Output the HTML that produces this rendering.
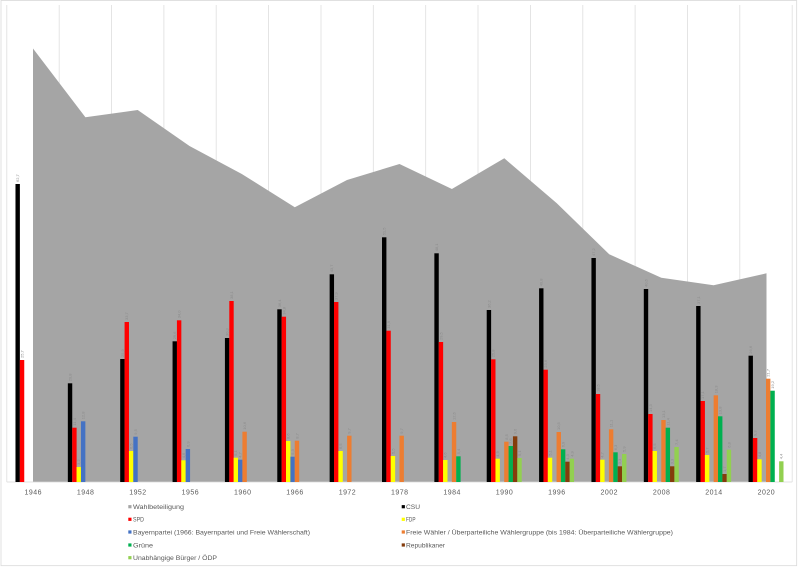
<!DOCTYPE html>
<html><head><meta charset="utf-8"><style>
html,body{margin:0;padding:0;background:#fff;width:800px;height:567px;overflow:hidden}
svg{display:block}
text{font-family:"Liberation Sans",sans-serif}
.dl{font-size:4px;fill:#8c8c8c}
.xl{font-size:7px;fill:#595959}
.lg{font-size:6.5px;fill:#595959}
</style></head><body>
<svg width="800" height="567" viewBox="0 0 800 567" xmlns="http://www.w3.org/2000/svg">
<rect x="0" y="0" width="800" height="567" fill="#fff"/>
<rect x="1" y="0.5" width="795.7" height="565.2" fill="none" stroke="#d9d9d9" stroke-width="0.8"/>
<g stroke="#dedede" stroke-width="0.8">
<line x1="6.8" y1="5" x2="6.8" y2="482"/><line x1="59.2" y1="5" x2="59.2" y2="482"/><line x1="111.5" y1="5" x2="111.5" y2="482"/><line x1="163.9" y1="5" x2="163.9" y2="482"/><line x1="216.2" y1="5" x2="216.2" y2="482"/><line x1="268.6" y1="5" x2="268.6" y2="482"/><line x1="321" y1="5" x2="321" y2="482"/><line x1="373.3" y1="5" x2="373.3" y2="482"/><line x1="425.7" y1="5" x2="425.7" y2="482"/><line x1="478" y1="5" x2="478" y2="482"/><line x1="530.4" y1="5" x2="530.4" y2="482"/><line x1="582.8" y1="5" x2="582.8" y2="482"/><line x1="635.1" y1="5" x2="635.1" y2="482"/><line x1="687.5" y1="5" x2="687.5" y2="482"/><line x1="739.8" y1="5" x2="739.8" y2="482"/><line x1="792.2" y1="5" x2="792.2" y2="482"/>
</g>
<polygon fill="#a5a5a5" points="33,48.5 85.4,117.3 137.7,110 189.5,146 241.8,174 294.8,207.3 347,180 399.5,164 451.9,189 504.3,158.3 556.8,203.3 609.2,254.3 661.3,277.7 713.6,285.3 766.5,273.3 766.5,482 33,482"/>
<line x1="6.8" y1="482" x2="792.2" y2="482" stroke="#d9d9d9" stroke-width="0.8"/>

<!-- 1946 -->
<g transform="translate(15.48,0)">
<rect x="0" y="184" width="4.4" height="298" fill="#000"/>
<rect x="4.37" y="360" width="4.4" height="122" fill="#f00"/>
<text class="dl" transform="translate(3.6,182) rotate(-90)">62,7</text>
<text class="dl" transform="translate(8,358) rotate(-90)">25,7</text>
</g>
<!-- 1948 -->
<g transform="translate(67.84,0)">
<rect x="0" y="383.3" width="4.4" height="98.7" fill="#000"/>
<rect x="4.37" y="427.7" width="4.4" height="54.3" fill="#f00"/>
<rect x="8.74" y="467" width="4.4" height="15" fill="#ff0"/>
<rect x="13.11" y="421.3" width="4.4" height="60.7" fill="#4472c4"/>
<text class="dl" transform="translate(3.6,381.3) rotate(-90)">20,8</text>
<text class="dl" transform="translate(8,425.7) rotate(-90)">11,4</text>
<text class="dl" transform="translate(12.3,465) rotate(-90)">3,2</text>
<text class="dl" transform="translate(16.7,419.3) rotate(-90)">12,8</text>
</g>
<!-- 1952 -->
<g transform="translate(120.2,0)">
<rect x="0" y="359" width="4.4" height="123" fill="#000"/>
<rect x="4.37" y="322" width="4.4" height="160" fill="#f00"/>
<rect x="8.74" y="451" width="4.4" height="31" fill="#ff0"/>
<rect x="13.11" y="436.7" width="4.4" height="45.3" fill="#4472c4"/>
<text class="dl" transform="translate(3.6,357) rotate(-90)">25,9</text>
<text class="dl" transform="translate(8,320) rotate(-90)">33,7</text>
<text class="dl" transform="translate(12.3,449) rotate(-90)">6,5</text>
<text class="dl" transform="translate(16.7,434.7) rotate(-90)">9,5</text>
</g>
<!-- 1956 -->
<g transform="translate(172.56,0)">
<rect x="0" y="341.3" width="4.4" height="140.7" fill="#000"/>
<rect x="4.37" y="320.3" width="4.4" height="161.7" fill="#f00"/>
<rect x="8.74" y="460.3" width="4.4" height="21.7" fill="#ff0"/>
<rect x="13.11" y="449" width="4.4" height="33" fill="#4472c4"/>
<text class="dl" transform="translate(3.6,339.3) rotate(-90)">29,6</text>
<text class="dl" transform="translate(8,318.3) rotate(-90)">34,0</text>
<text class="dl" transform="translate(12.3,458.3) rotate(-90)">4,6</text>
<text class="dl" transform="translate(16.7,447) rotate(-90)">6,9</text>
</g>
<!-- 1960 -->
<g transform="translate(224.92,0)">
<rect x="0" y="338" width="4.4" height="144" fill="#000"/>
<rect x="4.37" y="301" width="4.4" height="181" fill="#f00"/>
<rect x="8.74" y="457.7" width="4.4" height="24.3" fill="#ff0"/>
<rect x="13.11" y="459.7" width="4.4" height="22.3" fill="#4472c4"/>
<rect x="17.48" y="431.7" width="4.4" height="50.3" fill="#ed7d31"/>
<text class="dl" transform="translate(3.6,336) rotate(-90)">30,3</text>
<text class="dl" transform="translate(8,299) rotate(-90)">38,1</text>
<text class="dl" transform="translate(12.3,455.7) rotate(-90)">5,1</text>
<text class="dl" transform="translate(16.7,457.7) rotate(-90)">4,7</text>
<text class="dl" transform="translate(21.1,429.7) rotate(-90)">10,6</text>
</g>
<!-- 1966 -->
<g transform="translate(277.28,0)">
<rect x="0" y="309.3" width="4.4" height="172.7" fill="#000"/>
<rect x="4.37" y="316.7" width="4.4" height="165.3" fill="#f00"/>
<rect x="8.74" y="441" width="4.4" height="41" fill="#ff0"/>
<rect x="13.11" y="456.7" width="4.4" height="25.3" fill="#4472c4"/>
<rect x="17.48" y="440.7" width="4.4" height="41.3" fill="#ed7d31"/>
<text class="dl" transform="translate(3.6,307.3) rotate(-90)">36,4</text>
<text class="dl" transform="translate(8,314.7) rotate(-90)">34,8</text>
<text class="dl" transform="translate(12.3,439) rotate(-90)">8,6</text>
<text class="dl" transform="translate(16.7,454.7) rotate(-90)">5,3</text>
<text class="dl" transform="translate(21.1,438.7) rotate(-90)">8,7</text>
</g>
<!-- 1972 -->
<g transform="translate(329.64,0)">
<rect x="0" y="274.3" width="4.4" height="207.7" fill="#000"/>
<rect x="4.37" y="302" width="4.4" height="180" fill="#f00"/>
<rect x="8.74" y="451" width="4.4" height="31" fill="#ff0"/>
<rect x="17.48" y="435.7" width="4.4" height="46.3" fill="#ed7d31"/>
<text class="dl" transform="translate(3.6,272.3) rotate(-90)">43,7</text>
<text class="dl" transform="translate(8,300) rotate(-90)">37,9</text>
<text class="dl" transform="translate(12.3,449) rotate(-90)">6,5</text>
<text class="dl" transform="translate(21.1,433.7) rotate(-90)">9,7</text>
</g>
<!-- 1978 -->
<g transform="translate(382,0)">
<rect x="0" y="237.3" width="4.4" height="244.7" fill="#000"/>
<rect x="4.37" y="330.7" width="4.4" height="151.3" fill="#f00"/>
<rect x="8.74" y="456" width="4.4" height="26" fill="#ff0"/>
<rect x="17.48" y="435.7" width="4.4" height="46.3" fill="#ed7d31"/>
<text class="dl" transform="translate(3.6,235.3) rotate(-90)">51,5</text>
<text class="dl" transform="translate(8,328.7) rotate(-90)">31,9</text>
<text class="dl" transform="translate(12.3,454) rotate(-90)">5,5</text>
<text class="dl" transform="translate(21.1,433.7) rotate(-90)">9,7</text>
</g>
<!-- 1984 -->
<g transform="translate(434.36,0)">
<rect x="0" y="253.3" width="4.4" height="228.7" fill="#000"/>
<rect x="4.37" y="342" width="4.4" height="140" fill="#f00"/>
<rect x="8.74" y="460" width="4.4" height="22" fill="#ff0"/>
<rect x="17.48" y="422" width="4.4" height="60" fill="#ed7d31"/>
<rect x="21.85" y="456.3" width="4.4" height="25.7" fill="#00b050"/>
<text class="dl" transform="translate(3.6,251.3) rotate(-90)">48,1</text>
<text class="dl" transform="translate(8,340) rotate(-90)">29,5</text>
<text class="dl" transform="translate(12.3,458) rotate(-90)">4,6</text>
<text class="dl" transform="translate(21.1,420) rotate(-90)">12,6</text>
<text class="dl" transform="translate(25.5,454.3) rotate(-90)">5,4</text>
</g>
<!-- 1990 -->
<g transform="translate(486.72,0)">
<rect x="0" y="310" width="4.4" height="172" fill="#000"/>
<rect x="4.37" y="359.3" width="4.4" height="122.7" fill="#f00"/>
<rect x="8.74" y="458.7" width="4.4" height="23.3" fill="#ff0"/>
<rect x="17.48" y="441.7" width="4.4" height="40.3" fill="#ed7d31"/>
<rect x="21.85" y="446" width="4.4" height="36" fill="#00b050"/>
<rect x="26.22" y="436.3" width="4.4" height="45.7" fill="#843c0c"/>
<rect x="30.59" y="458" width="4.4" height="24" fill="#92d050"/>
<text class="dl" transform="translate(3.6,308) rotate(-90)">36,2</text>
<text class="dl" transform="translate(8,357.3) rotate(-90)">25,8</text>
<text class="dl" transform="translate(12.3,456.7) rotate(-90)">4,9</text>
<text class="dl" transform="translate(21.1,439.7) rotate(-90)">8,5</text>
<text class="dl" transform="translate(25.5,444) rotate(-90)">7,6</text>
<text class="dl" transform="translate(29.8,434.3) rotate(-90)">9,6</text>
<text class="dl" transform="translate(34.2,456) rotate(-90)">5,1</text>
</g>
<!-- 1996 -->
<g transform="translate(539.08,0)">
<rect x="0" y="288.3" width="4.4" height="193.7" fill="#000"/>
<rect x="4.37" y="369.7" width="4.4" height="112.3" fill="#f00"/>
<rect x="8.74" y="457.7" width="4.4" height="24.3" fill="#ff0"/>
<rect x="17.48" y="432" width="4.4" height="50" fill="#ed7d31"/>
<rect x="21.85" y="449.3" width="4.4" height="32.7" fill="#00b050"/>
<rect x="26.22" y="461.7" width="4.4" height="20.3" fill="#843c0c"/>
<rect x="30.59" y="458.7" width="4.4" height="23.3" fill="#92d050"/>
<text class="dl" transform="translate(3.6,286.3) rotate(-90)">40,8</text>
<text class="dl" transform="translate(8,367.7) rotate(-90)">23,6</text>
<text class="dl" transform="translate(12.3,455.7) rotate(-90)">5,1</text>
<text class="dl" transform="translate(21.1,430) rotate(-90)">10,5</text>
<text class="dl" transform="translate(25.5,447.3) rotate(-90)">6,9</text>
<text class="dl" transform="translate(29.8,459.7) rotate(-90)">4,3</text>
<text class="dl" transform="translate(34.2,456.7) rotate(-90)">4,9</text>
</g>
<!-- 2002 -->
<g transform="translate(591.44,0)">
<rect x="0" y="258" width="4.4" height="224" fill="#000"/>
<rect x="4.37" y="394" width="4.4" height="88" fill="#f00"/>
<rect x="8.74" y="459.7" width="4.4" height="22.3" fill="#ff0"/>
<rect x="17.48" y="429.3" width="4.4" height="52.7" fill="#ed7d31"/>
<rect x="21.85" y="452.3" width="4.4" height="29.7" fill="#00b050"/>
<rect x="26.22" y="466.3" width="4.4" height="15.7" fill="#843c0c"/>
<rect x="30.59" y="454" width="4.4" height="28" fill="#92d050"/>
<text class="dl" transform="translate(3.6,256) rotate(-90)">47,2</text>
<text class="dl" transform="translate(8,392) rotate(-90)">18,5</text>
<text class="dl" transform="translate(12.3,457.7) rotate(-90)">4,7</text>
<text class="dl" transform="translate(21.1,427.3) rotate(-90)">11,1</text>
<text class="dl" transform="translate(25.5,450.3) rotate(-90)">6,3</text>
<text class="dl" transform="translate(29.8,464.3) rotate(-90)">3,3</text>
<text class="dl" transform="translate(34.2,452) rotate(-90)">5,9</text>
</g>
<!-- 2008 -->
<g transform="translate(643.8,0)">
<rect x="0" y="289" width="4.4" height="193" fill="#000"/>
<rect x="4.37" y="414" width="4.4" height="68" fill="#f00"/>
<rect x="8.74" y="451" width="4.4" height="31" fill="#ff0"/>
<rect x="17.48" y="420" width="4.4" height="62" fill="#ed7d31"/>
<rect x="21.85" y="427.7" width="4.4" height="54.3" fill="#00b050"/>
<rect x="26.22" y="466.3" width="4.4" height="15.7" fill="#843c0c"/>
<rect x="30.59" y="447" width="4.4" height="35" fill="#92d050"/>
<text class="dl" transform="translate(3.6,287) rotate(-90)">40,6</text>
<text class="dl" transform="translate(8,412) rotate(-90)">14,3</text>
<text class="dl" transform="translate(12.3,449) rotate(-90)">6,5</text>
<text class="dl" transform="translate(21.1,418) rotate(-90)">13,1</text>
<text class="dl" transform="translate(25.5,425.7) rotate(-90)">11,4</text>
<text class="dl" transform="translate(29.8,464.3) rotate(-90)">3,3</text>
<text class="dl" transform="translate(34.2,445) rotate(-90)">7,4</text>
</g>
<!-- 2014 -->
<g transform="translate(696.16,0)">
<rect x="0" y="306" width="4.4" height="176" fill="#000"/>
<rect x="4.37" y="401" width="4.4" height="81" fill="#f00"/>
<rect x="8.74" y="455" width="4.4" height="27" fill="#ff0"/>
<rect x="17.48" y="395.3" width="4.4" height="86.7" fill="#ed7d31"/>
<rect x="21.85" y="416.3" width="4.4" height="65.7" fill="#00b050"/>
<rect x="26.22" y="474" width="4.4" height="8" fill="#843c0c"/>
<rect x="30.59" y="449.7" width="4.4" height="32.3" fill="#92d050"/>
<text class="dl" transform="translate(3.6,304) rotate(-90)">37,1</text>
<text class="dl" transform="translate(8,399) rotate(-90)">17,1</text>
<text class="dl" transform="translate(12.3,453) rotate(-90)">5,7</text>
<text class="dl" transform="translate(21.1,393.3) rotate(-90)">18,3</text>
<text class="dl" transform="translate(25.5,414.3) rotate(-90)">13,8</text>
<text class="dl" transform="translate(29.8,472) rotate(-90)">1,7</text>
<text class="dl" transform="translate(34.2,447.7) rotate(-90)">6,8</text>
</g>
<!-- 2020 -->
<g transform="translate(748.52,0)">
<rect x="0" y="355.7" width="4.4" height="126.3" fill="#000"/>
<rect x="4.37" y="438" width="4.4" height="44" fill="#f00"/>
<rect x="8.74" y="459.3" width="4.4" height="22.7" fill="#ff0"/>
<rect x="17.48" y="378.7" width="4.4" height="103.3" fill="#ed7d31"/>
<rect x="21.85" y="390.7" width="4.4" height="91.3" fill="#00b050"/>
<rect x="30.59" y="461.3" width="4.4" height="20.7" fill="#92d050"/>
<text class="dl" transform="translate(3.6,353.7) rotate(-90)">26,6</text>
<text class="dl" transform="translate(8,436) rotate(-90)">9,3</text>
<text class="dl" transform="translate(12.3,457.3) rotate(-90)">4,8</text>
<text class="dl" transform="translate(21.1,376.7) rotate(-90)">21,7</text>
<text class="dl" transform="translate(25.5,388.7) rotate(-90)">19,2</text>
<text class="dl" transform="translate(34.2,459.3) rotate(-90)">4,4</text>
</g>

<!-- x axis labels -->
<g class="xl" text-anchor="middle">
<text x="33" y="494.5" textLength="17" lengthAdjust="spacing">1946</text>
<text x="85.4" y="494.5" textLength="17" lengthAdjust="spacing">1948</text>
<text x="137.7" y="494.5" textLength="17" lengthAdjust="spacing">1952</text>
<text x="190.1" y="494.5" textLength="17" lengthAdjust="spacing">1956</text>
<text x="242.5" y="494.5" textLength="17" lengthAdjust="spacing">1960</text>
<text x="294.8" y="494.5" textLength="17" lengthAdjust="spacing">1966</text>
<text x="347.2" y="494.5" textLength="17" lengthAdjust="spacing">1972</text>
<text x="399.5" y="494.5" textLength="17" lengthAdjust="spacing">1978</text>
<text x="451.9" y="494.5" textLength="17" lengthAdjust="spacing">1984</text>
<text x="504.3" y="494.5" textLength="17" lengthAdjust="spacing">1990</text>
<text x="556.6" y="494.5" textLength="17" lengthAdjust="spacing">1996</text>
<text x="609" y="494.5" textLength="17" lengthAdjust="spacing">2002</text>
<text x="661.4" y="494.5" textLength="17" lengthAdjust="spacing">2008</text>
<text x="713.7" y="494.5" textLength="17" lengthAdjust="spacing">2014</text>
<text x="766.1" y="494.5" textLength="17" lengthAdjust="spacing">2020</text>
</g>

<!-- legend -->
<rect x="128.3" y="505.1" width="3.2" height="3.2" fill="#a5a5a5"/>
<text class="lg" x="133" y="509" textLength="51" lengthAdjust="spacingAndGlyphs">Wahlbeteiligung</text>
<rect x="128.3" y="517.7" width="3.2" height="3.2" fill="#f00"/>
<text class="lg" x="133" y="521.6" textLength="11" lengthAdjust="spacingAndGlyphs">SPD</text>
<rect x="128.3" y="530.4" width="3.2" height="3.2" fill="#4472c4"/>
<text class="lg" x="133" y="534.3" textLength="177" lengthAdjust="spacingAndGlyphs">Bayernpartei (1966: Bayernpartei und Freie Wählerschaft)</text>
<rect x="128.3" y="543.4" width="3.2" height="3.2" fill="#00b050"/>
<text class="lg" x="133" y="547.3" textLength="20" lengthAdjust="spacingAndGlyphs">Grüne</text>
<rect x="128.3" y="556.1" width="3.2" height="3.2" fill="#92d050"/>
<text class="lg" x="133" y="560" textLength="84" lengthAdjust="spacingAndGlyphs">Unabhängige Bürger / ÖDP</text>

<rect x="401.7" y="505.1" width="3.2" height="3.2" fill="#000"/>
<text class="lg" x="406" y="509" textLength="14" lengthAdjust="spacingAndGlyphs">CSU</text>
<rect x="401.7" y="517.7" width="3.2" height="3.2" fill="#ff0"/>
<text class="lg" x="406" y="521.6" textLength="9.5" lengthAdjust="spacingAndGlyphs">FDP</text>
<rect x="401.7" y="530.4" width="3.2" height="3.2" fill="#ed7d31"/>
<text class="lg" x="406" y="534.3" textLength="267" lengthAdjust="spacingAndGlyphs">Freie Wähler / Überparteiliche Wählergruppe (bis 1984: Überparteiliche Wählergruppe)</text>
<rect x="401.7" y="543.4" width="3.2" height="3.2" fill="#843c0c"/>
<text class="lg" x="406" y="547.3" textLength="39" lengthAdjust="spacingAndGlyphs">Republikaner</text>
</svg>
</body></html>
